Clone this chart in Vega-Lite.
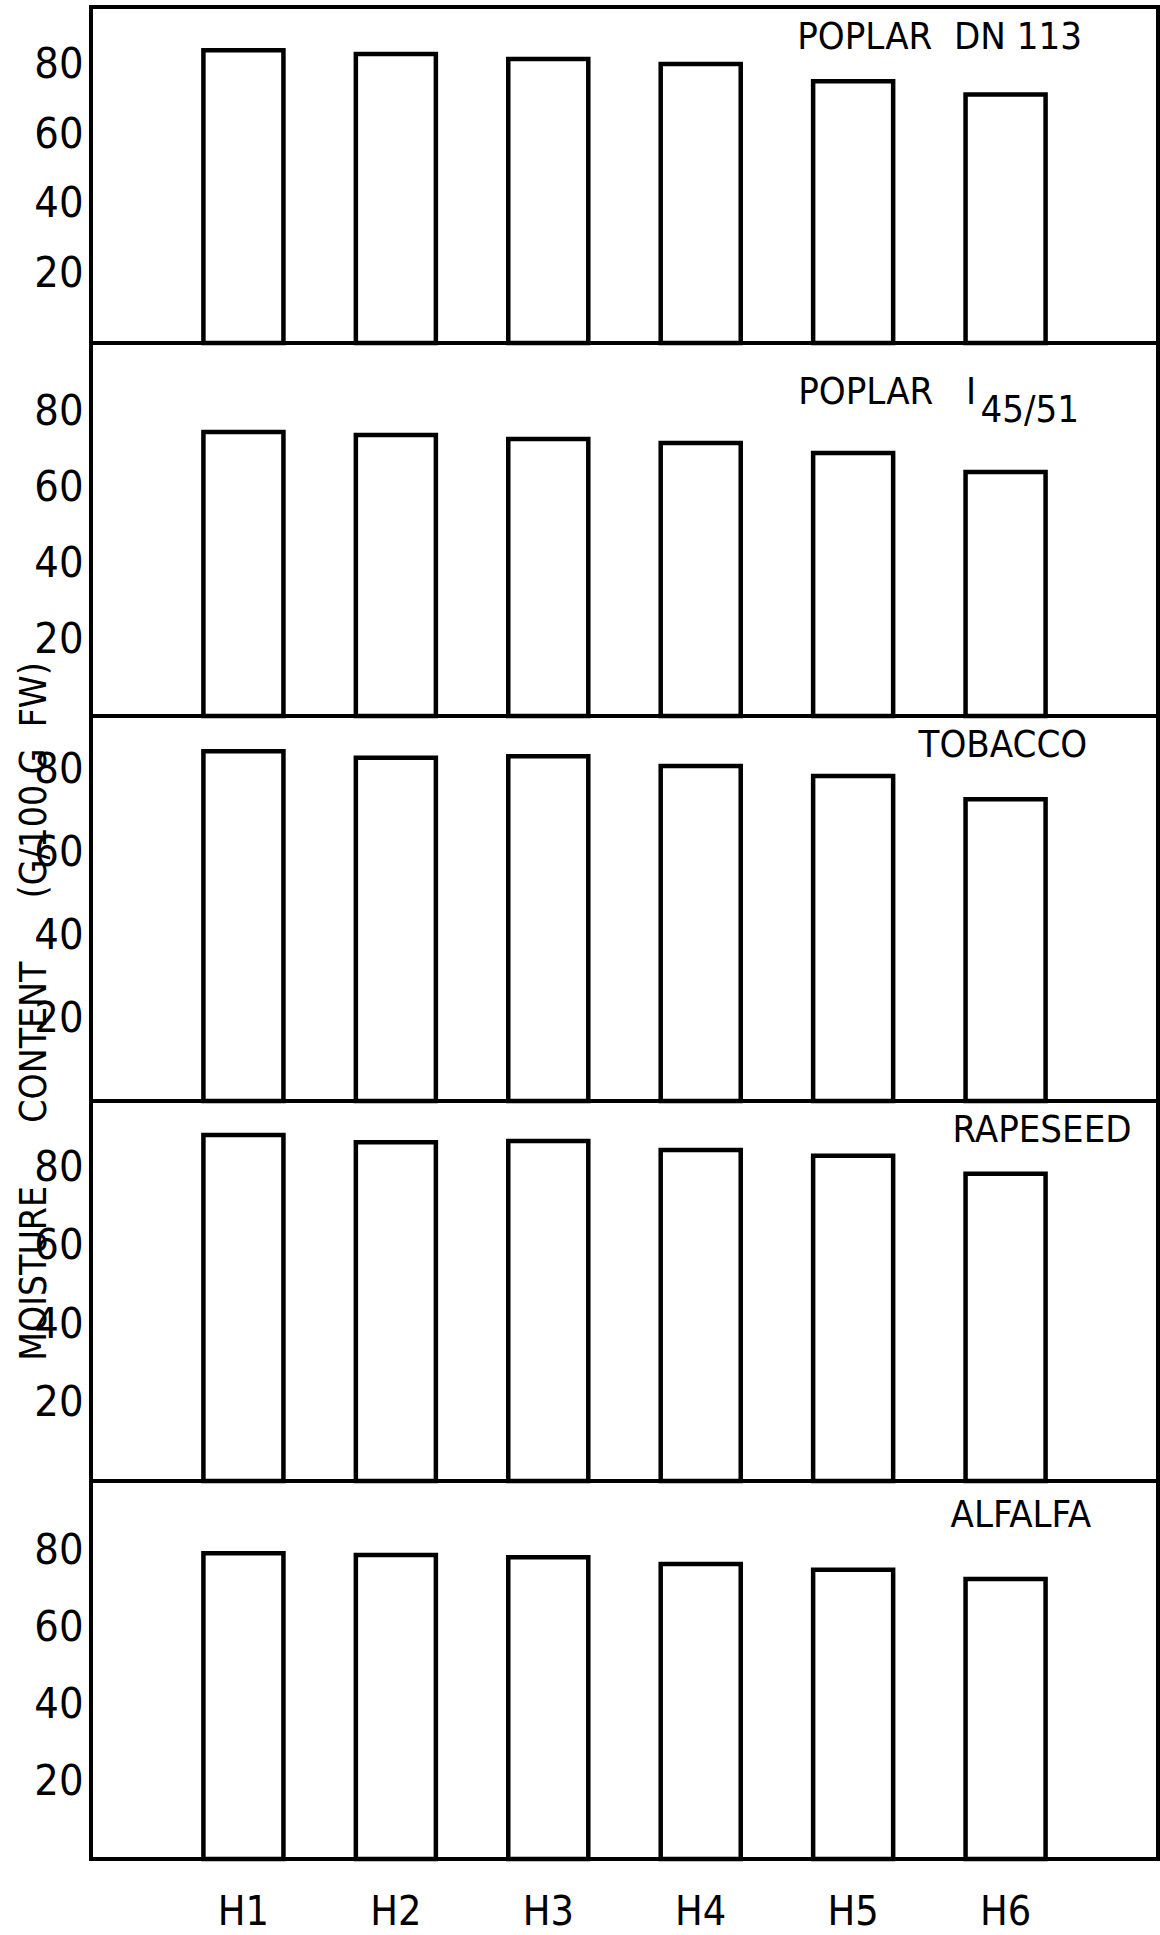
{
  "$schema": "https://vega.github.io/schema/vega-lite/v6.json",
  "background": "white",
  "padding": {"left": 12, "top": 5, "right": 3, "bottom": 3},
  "spacing": 0,
  "bounds": "flush",
  "datasets": {
    "poplar_dn113": [
      {"hybrid": "H1", "moisture": 84.1},
      {"hybrid": "H2", "moisture": 83.0},
      {"hybrid": "H3", "moisture": 81.6},
      {"hybrid": "H4", "moisture": 80.1},
      {"hybrid": "H5", "moisture": 75.2},
      {"hybrid": "H6", "moisture": 71.4}
    ],
    "poplar_i4551": [
      {"hybrid": "H1", "moisture": 74.6},
      {"hybrid": "H2", "moisture": 73.8},
      {"hybrid": "H3", "moisture": 72.8},
      {"hybrid": "H4", "moisture": 71.7},
      {"hybrid": "H5", "moisture": 69.1},
      {"hybrid": "H6", "moisture": 64.1}
    ],
    "tobacco": [
      {"hybrid": "H1", "moisture": 84.5},
      {"hybrid": "H2", "moisture": 82.9},
      {"hybrid": "H3", "moisture": 83.3},
      {"hybrid": "H4", "moisture": 80.9},
      {"hybrid": "H5", "moisture": 78.5},
      {"hybrid": "H6", "moisture": 72.9}
    ],
    "rapeseed": [
      {"hybrid": "H1", "moisture": 88.3},
      {"hybrid": "H2", "moisture": 86.5},
      {"hybrid": "H3", "moisture": 86.8},
      {"hybrid": "H4", "moisture": 84.5},
      {"hybrid": "H5", "moisture": 83.0},
      {"hybrid": "H6", "moisture": 78.4}
    ],
    "alfalfa": [
      {"hybrid": "H1", "moisture": 79.3},
      {"hybrid": "H2", "moisture": 78.8},
      {"hybrid": "H3", "moisture": 78.2},
      {"hybrid": "H4", "moisture": 76.5},
      {"hybrid": "H5", "moisture": 75.0},
      {"hybrid": "H6", "moisture": 72.6}
    ]
  },
  "vconcat": [
    {
      "width": 1067,
      "height": 336,
      "layer": [
        {
          "data": {"name": "poplar_dn113"},
          "mark": {"type": "bar", "fill": "white", "stroke": "black", "strokeWidth": 4.5},
          "encoding": {
            "x": {"field": "hybrid", "type": "nominal", "scale": {"domain": ["H1", "H2", "H3", "H4", "H5", "H6"], "paddingInner": 0.475, "paddingOuter": 0.7375}, "axis": null},
            "y": {"field": "moisture", "type": "quantitative", "scale": {"domain": [0, 96.5], "nice": false}, "axis": {"values": [20, 40, 60, 80], "title": null}}
          }
        },
        {
          "data": {"values": [{"label": "POPLAR\u00a0\u00a0DN\u00a0113"}]},
          "mark": {"type": "text", "align": "left", "baseline": "middle", "font": "DejaVu Sans Condensed", "fontSize": 38, "color": "black", "dx": -56},
          "encoding": {
            "x": {"datum": "H5"},
            "y": {"datum": 87.6},
            "text": {"field": "label"}
          }
        }
      ]
    },
    {
      "width": 1067,
      "height": 373,
      "layer": [
        {
          "data": {"name": "poplar_i4551"},
          "mark": {"type": "bar", "fill": "white", "stroke": "black", "strokeWidth": 4.5},
          "encoding": {
            "x": {"field": "hybrid", "type": "nominal", "scale": {"domain": ["H1", "H2", "H3", "H4", "H5", "H6"], "paddingInner": 0.475, "paddingOuter": 0.7375}, "axis": null},
            "y": {"field": "moisture", "type": "quantitative", "scale": {"domain": [0, 98], "nice": false}, "axis": {"values": [20, 40, 60, 80], "title": null}}
          }
        },
        {
          "data": {"values": [{"label": "POPLAR\u00a0\u00a0\u00a0I"}]},
          "mark": {"type": "text", "align": "left", "baseline": "middle", "font": "DejaVu Sans Condensed", "fontSize": 38, "color": "black", "dx": -55},
          "encoding": {
            "x": {"datum": "H5"},
            "y": {"datum": 84.9},
            "text": {"field": "label"}
          }
        },
        {
          "data": {"values": [{"label": "45/51"}]},
          "mark": {"type": "text", "align": "left", "baseline": "middle", "font": "DejaVu Sans Condensed", "fontSize": 38, "color": "black", "dx": -25},
          "encoding": {
            "x": {"datum": "H6"},
            "y": {"datum": 80.1},
            "text": {"field": "label"}
          }
        }
      ]
    },
    {
      "width": 1067,
      "height": 385,
      "layer": [
        {
          "data": {"name": "tobacco"},
          "mark": {"type": "bar", "fill": "white", "stroke": "black", "strokeWidth": 4.5},
          "encoding": {
            "x": {"field": "hybrid", "type": "nominal", "scale": {"domain": ["H1", "H2", "H3", "H4", "H5", "H6"], "paddingInner": 0.475, "paddingOuter": 0.7375}, "axis": null},
            "y": {"field": "moisture", "type": "quantitative", "scale": {"domain": [0, 93], "nice": false}, "axis": {"values": [20, 40, 60, 80], "title": "MOISTURE\u00a0\u00a0\u00a0\u00a0\u00a0\u00a0CONTENT\u00a0\u00a0\u00a0\u00a0\u00a0\u00a0(G/100\u00a0G\u00a0\u00a0FW)", "titleFontSize": 37, "titleX": -57, "titleY": 295, "titleAngle": 270, "titleAlign": "center", "titleBaseline": "middle", "titleFontWeight": "normal"}}
          }
        },
        {
          "data": {"values": [{"label": "TOBACCO"}]},
          "mark": {"type": "text", "align": "left", "baseline": "middle", "font": "DejaVu Sans Condensed", "fontSize": 38, "color": "black", "dx": -87},
          "encoding": {
            "x": {"datum": "H6"},
            "y": {"datum": 85.8},
            "text": {"field": "label"}
          }
        }
      ]
    },
    {
      "width": 1067,
      "height": 380,
      "layer": [
        {
          "data": {"name": "rapeseed"},
          "mark": {"type": "bar", "fill": "white", "stroke": "black", "strokeWidth": 4.5},
          "encoding": {
            "x": {"field": "hybrid", "type": "nominal", "scale": {"domain": ["H1", "H2", "H3", "H4", "H5", "H6"], "paddingInner": 0.475, "paddingOuter": 0.7375}, "axis": null},
            "y": {"field": "moisture", "type": "quantitative", "scale": {"domain": [0, 97], "nice": false}, "axis": {"values": [20, 40, 60, 80], "title": null}}
          }
        },
        {
          "data": {"values": [{"label": "RAPESEED"}]},
          "mark": {"type": "text", "align": "left", "baseline": "middle", "font": "DejaVu Sans Condensed", "fontSize": 38, "color": "black", "dx": -53},
          "encoding": {
            "x": {"datum": "H6"},
            "y": {"datum": 89.3},
            "text": {"field": "label"}
          }
        }
      ]
    },
    {
      "width": 1067,
      "height": 378,
      "layer": [
        {
          "data": {"name": "alfalfa"},
          "mark": {"type": "bar", "fill": "white", "stroke": "black", "strokeWidth": 4.5},
          "encoding": {
            "x": {"field": "hybrid", "type": "nominal", "scale": {"domain": ["H1", "H2", "H3", "H4", "H5", "H6"], "paddingInner": 0.475, "paddingOuter": 0.7375}, "axis": {"title": null, "labelAngle": 0, "labelPadding": 33, "labelFontSize": 41}},
            "y": {"field": "moisture", "type": "quantitative", "scale": {"domain": [0, 98], "nice": false}, "axis": {"values": [20, 40, 60, 80], "title": null}}
          }
        },
        {
          "data": {"values": [{"label": "ALFALFA"}]},
          "mark": {"type": "text", "align": "left", "baseline": "middle", "font": "DejaVu Sans Condensed", "fontSize": 38, "color": "black", "dx": -55},
          "encoding": {
            "x": {"datum": "H6"},
            "y": {"datum": 88.9},
            "text": {"field": "label"}
          }
        },
        {
          "mark": {"type": "rule", "color": "black", "strokeWidth": 6},
          "encoding": {"y": {"datum": 0}}
        }
      ]
    }
  ],
  "config": {
    "view": {"stroke": "black", "strokeWidth": 4},
    "axis": {
      "domain": false,
      "ticks": false,
      "grid": false,
      "labelFont": "DejaVu Sans Condensed",
      "labelFontSize": 43,
      "labelColor": "black",
      "titleFont": "DejaVu Sans Condensed",
      "titleColor": "black"
    },
    "axisY": {"labelPadding": 8}
  }
}
